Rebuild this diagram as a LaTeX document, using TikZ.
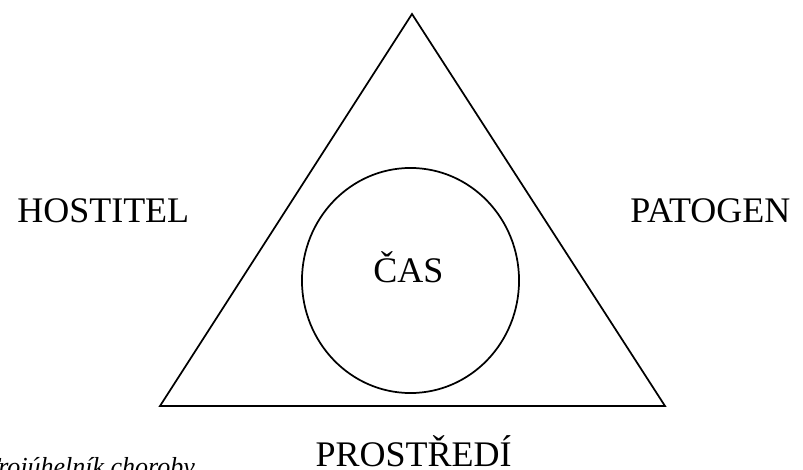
\documentclass[tikz,border=0pt]{standalone}
\usepackage{fontspec}
\setmainfont{Liberation Serif}
\begin{document}
\begin{tikzpicture}[x=0.75pt,y=-0.75pt,
  shape line/.style={draw=black,line width=1.3pt,line join=miter},
  biglabel/.style={inner sep=0pt,font=\fontsize{27}{32}\selectfont},
  caption/.style={inner sep=0pt,font=\fontsize{19.5}{23}\selectfont\itshape}]
\useasboundingbox (0,0) rectangle (803,470);
\clip (0,0) rectangle (803,470);
\coordinate (apex) at (412,14);
\coordinate (bl) at (160,406);
\coordinate (br) at (665,406);
\draw[shape line] (apex) -- (br) -- (bl) -- cycle;
\draw[shape line] (410.5,280.5) ellipse [x radius=81.4pt, y radius=84.4pt];
\node[biglabel,anchor=base west] (host) at (17,223) {HOSTITEL};
\node[biglabel,anchor=base west] (pat) at (630,223) {PATOGEN};
\node[biglabel,anchor=base west] (cas) at (373,283) {ČAS};
\node[biglabel,anchor=base east,text depth=0pt] (env) at (512,466) {PROSTŘEDÍ};
\node[caption,anchor=base west] (cap) at (-15,475) {Trojúhelník choroby};
\end{tikzpicture}
\end{document}
